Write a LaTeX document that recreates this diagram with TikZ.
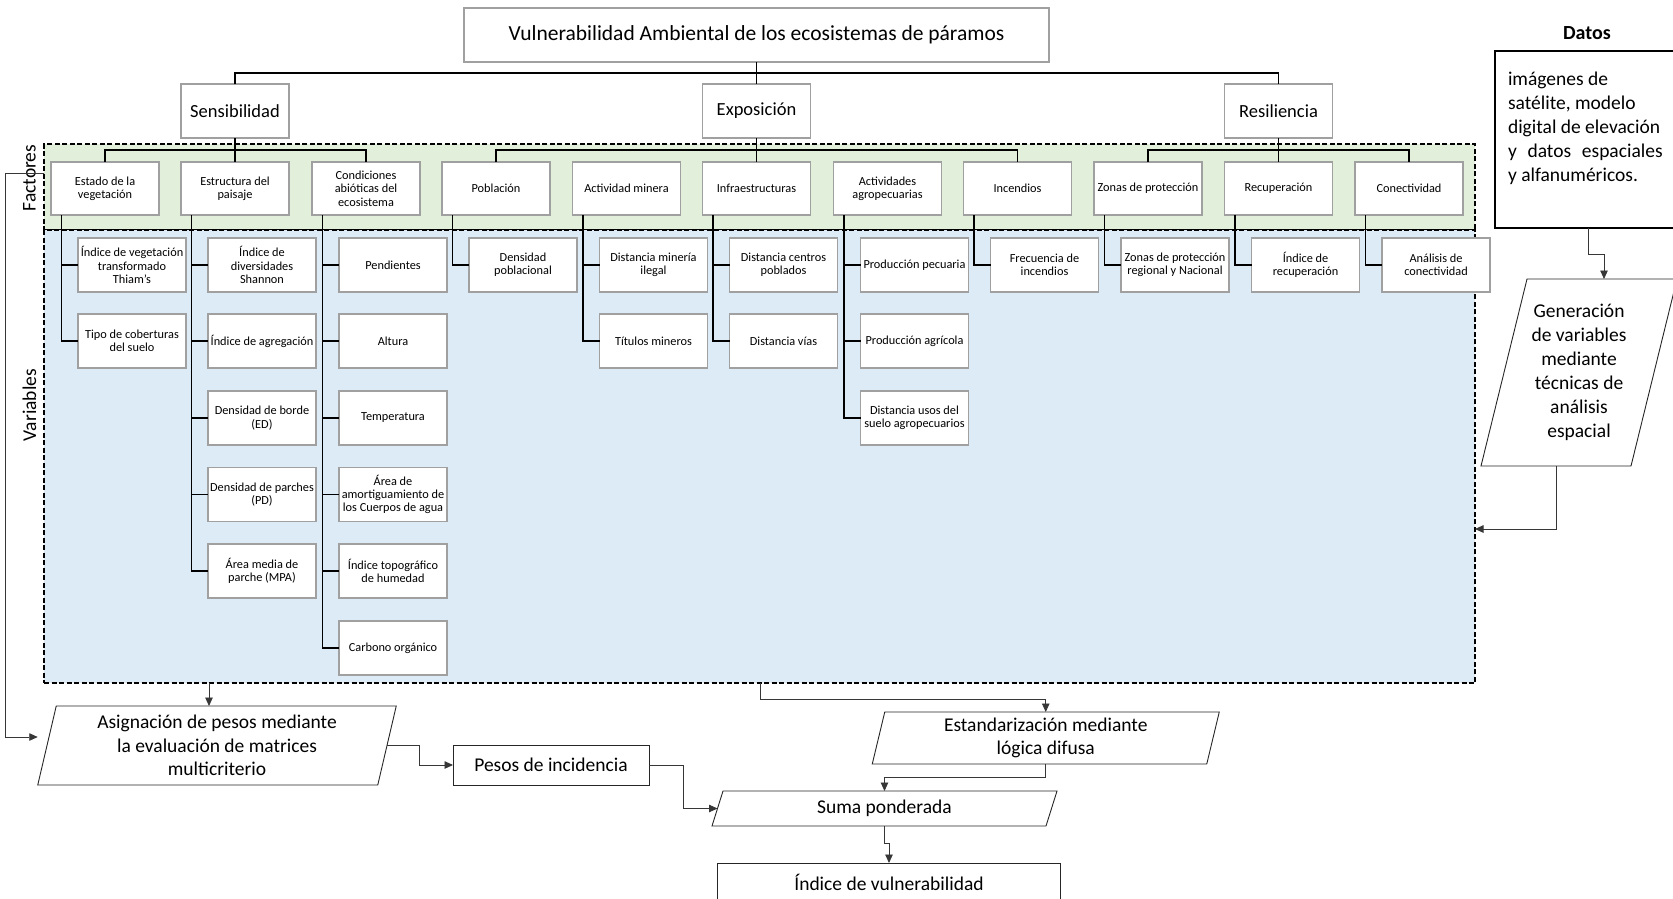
\documentclass[tikz,border=0pt]{standalone}
\usepackage{fontspec}
\setmainfont{Carlito}
\usetikzlibrary{calc,arrows.meta}
\definecolor{boxc}{RGB}{160,160,160}
\definecolor{facbg}{RGB}{226,239,218}
\definecolor{varbg}{RGB}{221,235,247}
\definecolor{arrc}{RGB}{55,55,55}
\newcommand{\myfs}[2]{\fontsize{#1}{#2}\selectfont}
\begin{document}
\begin{tikzpicture}[x=1pt,y=-1pt,
  every node/.style={inner sep=1pt, outer sep=0pt},
  box/.style={draw=boxc, line width=1.2pt, fill=white, align=center},
  topbox/.style={box, minimum width=108pt, minimum height=54pt, font=\myfs{18.5}{22}},
  facbox/.style={box, minimum width=108pt, minimum height=53pt, font=\myfs{12.3}{13.4}},
  varbox/.style={box, minimum width=108pt, minimum height=54pt, font=\myfs{12.3}{13.4}},
  tree/.style={line width=1.8pt, black},
  arr/.style={line width=0.9pt, arrc, -{Triangle[length=8.5pt,width=7.5pt]}},
  region/.style={draw=black, line width=1.3pt, dash pattern=on 5pt off 2.5pt},
  big/.style={font=\myfs{19.5}{23.5}, align=center},
  para/.style={draw=black!85, line width=0.9pt}
]
\useasboundingbox (0,0) rectangle (1673,898);
\clip (0,0) rectangle (1673,898);

% regions
\node[region, fill=facbg, minimum width=1431pt, minimum height=86pt] (fact) at (759.5,187) {};
\node[region, fill=varbg, minimum width=1431pt, minimum height=453pt] (vars) at (759.5,456.5) {};
\node[big, rotate=90] (lfac) at (29.5,178) {Factores};
\node[big, rotate=90] (lvar) at (29.5,405) {Variables};

% top levels
\node[box, minimum width=585pt, minimum height=54pt, font=\myfs{21.5}{25}] (title) at (756.5,35) {Vulnerabilidad Ambiental de los ecosistemas de páramos};
\node[topbox] (sens) at (235,111) {Sensibilidad};
\node[topbox] (expo) at (756.5,111) {Exposición};
\node[topbox] (resi) at (1278.5,111) {Resiliencia};

% factors
\node[facbox] (f1) at (105,188.5) {Estado de la\\vegetación};
\node[facbox] (f2) at (235,188.5) {Estructura del\\paisaje};
\node[facbox] (f3) at (366,188.5) {Condiciones\\abióticas del\\ecosistema};
\node[facbox] (f4) at (496,188.5) {Población};
\node[facbox] (f5) at (626.5,188.5) {Actividad minera};
\node[facbox] (f6) at (756.5,188.5) {Infraestructuras};
\node[facbox] (f7) at (887.5,188.5) {Actividades\\agropecuarias};
\node[facbox] (f8) at (1017.5,188.5) {Incendios};
\node[facbox] (f9) at (1148,188.5) {Zonas de protección};
\node[facbox] (f10) at (1278.5,188.5) {Recuperación};
\node[facbox] (f11) at (1409,188.5) {Conectividad};

% variables
\node[varbox] (v1a) at (132,265) {Índice de vegetación\\transformado\\Thiam's};
\node[varbox] (v1b) at (132,341) {Tipo de coberturas\\del suelo};
\node[varbox] (v2a) at (262,265) {Índice de\\diversidades\\Shannon};
\node[varbox] (v2b) at (262,341) {Índice de agregación};
\node[varbox] (v2c) at (262,418) {Densidad de borde\\(ED)};
\node[varbox] (v2d) at (262,494.5) {Densidad de parches\\(PD)};
\node[varbox] (v2e) at (262,571) {Área media de\\parche (MPA)};
\node[varbox] (v3a) at (393,265) {Pendientes};
\node[varbox] (v3b) at (393,341) {Altura};
\node[varbox] (v3c) at (393,418) {Temperatura};
\node[varbox] (v3d) at (393,494.5) {Área de\\amortiguamiento de\\los Cuerpos de agua};
\node[varbox] (v3e) at (393,571) {Índice topográfico\\de humedad};
\node[varbox] (v3f) at (393,648) {Carbono orgánico};
\node[varbox] (v4a) at (523,265) {Densidad\\poblacional};
\node[varbox] (v5a) at (653.5,265) {Distancia minería\\ilegal};
\node[varbox] (v5b) at (653.5,341) {Títulos mineros};
\node[varbox] (v6a) at (783.5,265) {Distancia centros\\poblados};
\node[varbox] (v6b) at (783.5,341) {Distancia vías};
\node[varbox] (v7a) at (914.5,265) {Producción pecuaria};
\node[varbox] (v7b) at (914.5,341) {Producción agrícola};
\node[varbox] (v7c) at (914.5,418) {Distancia usos del\\suelo agropecuarios};
\node[varbox] (v8a) at (1044.5,265) {Frecuencia de\\incendios};
\node[varbox] (v9a) at (1175,265) {Zonas de protección\\regional y Nacional};
\node[varbox] (v10a) at (1305.5,265) {Índice de\\recuperación};
\node[varbox] (v11a) at (1436,265) {Análisis de\\conectividad};

% tree connectors
\coordinate (bus0) at (0,73);
\coordinate (bus1) at (0,150);
\draw[tree] (title.south) -- (expo.north);
\draw[tree] (sens.north) |- (bus0 -| resi.north) -- (resi.north);
\draw[tree] (sens.south) -- (f2.north);
\draw[tree] (f1.north) |- (bus1 -| f3.north) -- (f3.north);
\draw[tree] (expo.south) -- (f6.north);
\draw[tree] (f4.north) |- (bus1 -| f8.north) -- (f8.north);
\draw[tree] (resi.south) -- (f10.north);
\draw[tree] (f9.north) |- (bus1 -| f11.north) -- (f11.north);

\foreach \i in {1,...,11}{\coordinate (t\i) at ($(f\i.south west)+(10.5,0)$);}
\draw[tree] (t1) |- (v1b.west);
\draw[tree] (t1 |- v1a.west) -- (v1a.west);
\draw[tree] (t2) |- (v2e.west);
\foreach \v in {v2a,v2b,v2c,v2d}{\draw[tree] (t2 |- \v.west) -- (\v.west);}
\draw[tree] (t3) |- (v3f.west);
\foreach \v in {v3a,v3b,v3c,v3d,v3e}{\draw[tree] (t3 |- \v.west) -- (\v.west);}
\draw[tree] (t4) |- (v4a.west);
\draw[tree] (t5) |- (v5b.west);
\draw[tree] (t5 |- v5a.west) -- (v5a.west);
\draw[tree] (t6) |- (v6b.west);
\draw[tree] (t6 |- v6a.west) -- (v6a.west);
\draw[tree] (t7) |- (v7c.west);
\foreach \v in {v7a,v7b}{\draw[tree] (t7 |- \v.west) -- (\v.west);}
\draw[tree] (t8) |- (v8a.west);
\draw[tree] (t9) |- (v9a.west);
\draw[tree] (t10) |- (v10a.west);
\draw[tree] (t11) |- (v11a.west);

% data side
\node[font=\bfseries\myfs{20}{24}] (datoslbl) at (1587,33) {Datos};
\node[draw=black, line width=2.6pt, minimum width=186pt, minimum height=177pt] (datos) at (1588,139.5) {};
\node[big, align=left, anchor=west, font=\myfs{19.5}{24}] (datostxt) at (1507,128.5) {imágenes de\\satélite, modelo\\digital de elevación\\y\hspace{0.55em}datos\hspace{0.55em}espaciales\\y alfanuméricos.};

\node[big, font=\myfs{19.5}{24}, minimum width=150pt, minimum height=187pt] (gen) at (1579,372.5) {Generación\\de variables\\mediante\\técnicas de\\análisis\\espacial};
\draw[para] ([xshift=-23pt]gen.south west) -- ([xshift=23pt]gen.north west) -- ([xshift=23pt]gen.north east) -- ([xshift=-23pt]gen.south east) -- cycle;

% bottom flow
\node[big, minimum width=340pt, minimum height=79pt] (asig) at (217,745.5) {Asignación de pesos mediante\\la evaluación de matrices\\multicriterio};
\draw[para] ([xshift=-9.25pt]asig.south west) -- ([xshift=9.25pt]asig.north west) -- ([xshift=9.25pt]asig.north east) -- ([xshift=-9.25pt]asig.south east) -- cycle;

\node[big, para, minimum width=196pt, minimum height=40pt] (pesos) at (551,765) {Pesos de incidencia};

\node[big, minimum width=334.5pt, minimum height=52pt] (estand) at (1045.75,738) {Estandarización mediante\\lógica difusa};
\draw[para] ([xshift=-6.25pt]estand.south west) -- ([xshift=6.25pt]estand.north west) -- ([xshift=6.25pt]estand.north east) -- ([xshift=-6.25pt]estand.south east) -- cycle;

\node[big, minimum width=334pt, minimum height=35pt] (suma) at (884.5,808.5) {Suma ponderada};
\draw[para] ([xshift=-5.5pt]suma.south west) -- ([xshift=5.5pt]suma.north west) -- ([xshift=5.5pt]suma.north east) -- ([xshift=-5.5pt]suma.south east) -- cycle;

\node[big, para, minimum width=343.5pt, minimum height=38pt] (indice) at (889,882) {Índice de vulnerabilidad};

% flow arrows
\coordinate (va) at (209,683);
\coordinate (vb) at (760,683);
\draw[arr] ([yshift=14pt]fact.west) -- ++(-38.5,0) |- ([shift={(-9.25pt,8.5pt)}]asig.west);
\draw[arr] (va) -- (va |- asig.north);
\draw[arr] (asig.east) -- ++(32,0) |- (pesos.west);
\draw[arr] (pesos.east) -- ++(34,0) |- (suma.west);
\draw[arr] (vb) -- ++(0,16) -| (estand.north);
\draw[arr] (estand.south) -- ++(0,13) -| (suma.north);
\draw[arr] (suma.south) -- ++(0,17) -| (indice.north);
\draw[arr] (datos.south) -- ++(0,26) -| ([xshift=25pt]gen.north);
\draw[arr] ([xshift=-23pt]gen.south) |- ([yshift=-72.5pt]vars.east);
\end{tikzpicture}
\end{document}
